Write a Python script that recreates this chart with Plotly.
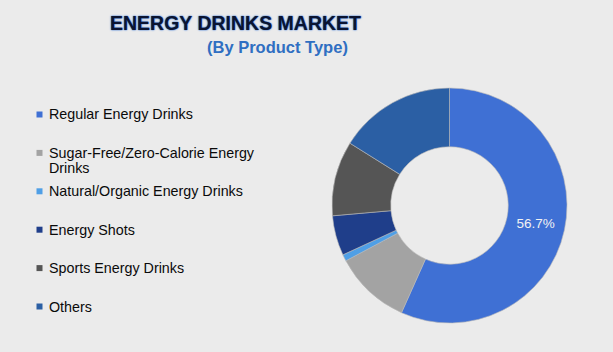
import plotly.graph_objects as go

categories = [
    "Regular Energy Drinks",
    "Sugar-Free/Zero-Calorie Energy Drinks",
    "Natural/Organic Energy Drinks",
    "Energy Shots",
    "Sports Energy Drinks",
    "Others",
]
shares = [56.7, 10.5, 0.9, 5.5, 10.3, 16.1]
shown_labels = ["56.7%", "", "", "", "", ""]
legend_lines = [
    ["Regular Energy Drinks"],
    ["Sugar-Free/Zero-Calorie Energy", "Drinks"],
    ["Natural/Organic Energy Drinks"],
    ["Energy Shots"],
    ["Sports Energy Drinks"],
    ["Others"],
]
colors = ["#3f70d4", "#a3a3a3", "#4f9fe6", "#1f3e8a", "#555555", "#2b5fa4"]

W, H = 613, 352


def px(x):
    return x / W


def py(y):
    return 1 - y / H


fig = go.Figure()
fig.add_trace(go.Pie(
    labels=categories,
    values=shares,
    text=shown_labels,
    textinfo="text",
    textposition="inside",
    insidetextorientation="horizontal",
    textfont=dict(family="Liberation Sans, Arial", size=13.5, color="#f2f2f2"),
    hole=0.5,
    sort=False,
    direction="clockwise",
    rotation=0,
    marker=dict(colors=colors, line=dict(width=0.6, color="#b8b8b8")),
    domain=dict(x=[px(332), px(567)], y=[py(323), py(88)]),
    showlegend=False,
    hoverinfo="label+percent",
))

annotations = [
    dict(text="<b>ENERGY DRINKS MARKET</b>", x=px(235), y=py(23), xref="paper", yref="paper",
         showarrow=False, xanchor="center", yanchor="middle",
         font=dict(family="Liberation Sans, Arial", size=19.5, color="#0b1430",
                   shadow="0px 0px 1px #2f6fd0, 0px 0px 2px #3d7ad6")),
    dict(text="<b>(By Product Type)</b>", x=px(277), y=py(47), xref="paper", yref="paper",
         showarrow=False, xanchor="center", yanchor="middle",
         font=dict(family="Liberation Sans, Arial", size=16.5, color="#2f6fc2")),
]
shapes = []
row0, step, line_h = 114.5, 38.4, 15.5
for i, lines in enumerate(legend_lines):
    yc = row0 + step * i
    shapes.append(dict(type="rect", xref="paper", yref="paper",
                       x0=px(36.5), x1=px(42.5), y0=py(yc - 3), y1=py(yc + 3),
                       fillcolor=colors[i], line=dict(width=0)))
    for j, ln in enumerate(lines):
        annotations.append(dict(text=ln, x=px(47), y=py(yc + j * line_h), xref="paper", yref="paper",
                                showarrow=False, xanchor="left", yanchor="middle",
                                font=dict(family="Liberation Sans, Arial", size=14.3, color="#0a0a0a")))

fig.update_layout(
    width=W, height=H,
    margin=dict(l=0, r=0, t=0, b=0),
    paper_bgcolor="#ebebeb",
    plot_bgcolor="#ebebeb",
    annotations=annotations,
    shapes=shapes,
)

fig.write_html("out.html")
